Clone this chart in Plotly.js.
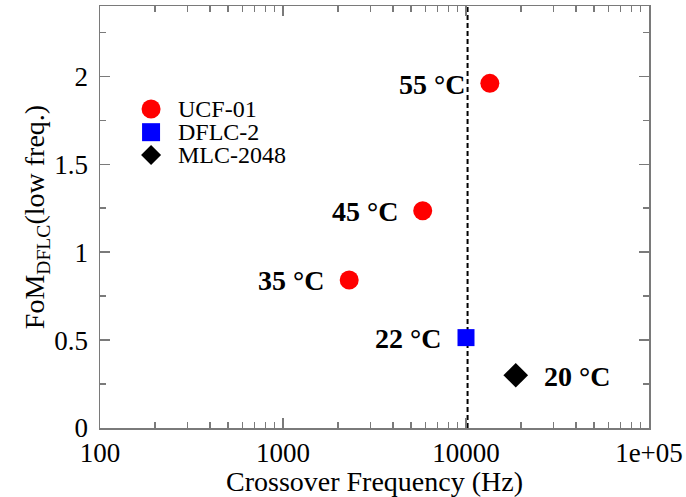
<!DOCTYPE html>
<html>
<head>
<meta charset="utf-8">
<script src="https://cdn.plot.ly/plotly-3.0.1.min.js"></script>
<style>html,body{margin:0;padding:0;background:#fff;}#chart{width:686px;height:497px;}</style>
</head>
<body>
<div id="chart"></div>
<script>
// Data
const seriesNames = ['UCF-01', 'DFLC-2', 'MLC-2048'];
const ucfFreq = [2300, 5800, 13500];
const ucfFoM = [0.842, 1.236, 1.96];
const ucfTemps = ['35 °C', '45 °C', '55 °C'];
const dflcFreq = [10000];
const dflcFoM = [0.514];
const dflcTemps = ['22 °C'];
const mlcFreq = [18700];
const mlcFoM = [0.3];
const mlcTemps = ['20 °C'];
const crossoverLineFreq = 10200;
const yRange = [0, 2.4];
const xTickVals = [100, 1000, 10000, 100000];
const xTickText = ['100', '1000', '10000', '1e+05'];
const xMinorVals = [200,300,400,500,600,700,800,900,2000,3000,4000,5000,6000,7000,8000,9000,20000,30000,40000,50000,60000,70000,80000,90000];

const serif = "'Liberation Serif', 'Times New Roman', Times, serif";
const axisGray = '#7a7a7a';
const colors = ['#ff0000', '#0000ff', '#000000'];

const traces = [
  {x: [crossoverLineFreq, crossoverLineFreq], y: yRange, mode: 'lines', showlegend: false,
   line: {color: 'black', width: 2, dash: '5px,3px'}, hoverinfo: 'skip'},
  {x: ucfFreq, y: ucfFoM, name: seriesNames[0], mode: 'markers', showlegend: false,
   marker: {symbol: 'circle', size: 19, color: colors[0]}},
  {x: dflcFreq, y: dflcFoM, name: seriesNames[1], mode: 'markers', showlegend: false,
   marker: {symbol: 'square', size: 17, color: colors[1]}},
  {x: mlcFreq, y: mlcFoM, name: seriesNames[2], mode: 'markers', showlegend: false,
   marker: {symbol: 'diamond', size: 19, color: colors[2]}}
];

const annotations = [];
function addLabels(xs, ys, texts, side) {
  xs.forEach((xv, i) => {
    annotations.push({
      x: Math.log10(xv), y: ys[i], xref: 'x', yref: 'y', text: '<b>' + texts[i] + '</b>',
      showarrow: false, xanchor: side === 'left' ? 'right' : 'left',
      xshift: side === 'left' ? -23 : 26, yshift: -1,
      font: {family: serif, size: 28, color: 'black'}
    });
  });
}
addLabels(ucfFreq, ucfFoM, ucfTemps, 'left');
addLabels(dflcFreq, dflcFoM, dflcTemps, 'left');
addLabels(mlcFreq, mlcFoM, mlcTemps, 'right');

// Legend block (top-left inside the axes), drawn as glyphs + text in paper coordinates
const legX = 0.093, legTextX = 0.138;
const legY = [0.756, 0.701, 0.647];
const shapes = [];
shapes.push({type: 'circle', xref: 'paper', yref: 'paper', xsizemode: 'pixel', ysizemode: 'pixel',
  xanchor: legX, yanchor: legY[0], x0: -9.5, x1: 9.5, y0: -9.5, y1: 9.5,
  fillcolor: colors[0], line: {width: 0}});
shapes.push({type: 'rect', xref: 'paper', yref: 'paper', xsizemode: 'pixel', ysizemode: 'pixel',
  xanchor: legX, yanchor: legY[1], x0: -9, x1: 9, y0: -9, y1: 9,
  fillcolor: colors[1], line: {width: 0}});
shapes.push({type: 'path', xref: 'paper', yref: 'paper', xsizemode: 'pixel', ysizemode: 'pixel',
  xanchor: legX, yanchor: legY[2], path: 'M0,-10 L10,0 L0,10 L-10,0 Z',
  fillcolor: colors[2], line: {width: 0}});
seriesNames.forEach((n, i) => {
  annotations.push({x: legTextX, y: legY[i], xref: 'paper', yref: 'paper', text: n, showarrow: false,
    xanchor: 'left', yanchor: 'middle', height: 22, valign: 'middle',
    font: {family: serif, size: 24, color: 'black'}});
});

const layout = {
  width: 686, height: 497,
  margin: {l: 100, r: 37, t: 6, b: 69},
  paper_bgcolor: '#fff', plot_bgcolor: '#fff',
  font: {family: serif, color: 'black'},
  showlegend: false,
  xaxis: {
    type: 'log', range: [2, 5], showgrid: false, zeroline: false,
    showline: true, linecolor: axisGray, linewidth: 1.5, mirror: 'ticks',
    ticks: 'inside', ticklen: 10, tickcolor: axisGray, tickwidth: 1.5,
    tickmode: 'array', tickvals: xTickVals, ticktext: xTickText,
    tickfont: {family: serif, size: 27, color: 'black'},
    minor: {tickmode: 'array', tickvals: xMinorVals, ticks: 'inside', ticklen: 6, tickcolor: axisGray, tickwidth: 1.5, showgrid: false},
    title: {text: 'Crossover Frequency (Hz)', font: {family: serif, size: 28, color: 'black'}, standoff: 2}
  },
  yaxis: {
    range: yRange, showgrid: false, zeroline: false,
    showline: true, linecolor: axisGray, linewidth: 1.5, mirror: 'ticks',
    ticks: 'inside', ticklen: 10, tickcolor: axisGray, tickwidth: 1.5,
    dtick: 0.5, tick0: 0, ticklabelstandoff: 5,
    tickfont: {family: serif, size: 27, color: 'black'},
    minor: {dtick: 0.25, ticks: 'inside', ticklen: 6, tickcolor: axisGray, tickwidth: 1.5, showgrid: false},
    title: {text: 'FoM<sub>DFLC</sub>(low freq.)', font: {family: serif, size: 28, color: 'black'}, standoff: 0}
  },
  shapes: shapes,
  annotations: annotations
};

Plotly.newPlot('chart', traces, layout, {displayModeBar: false, staticPlot: true});
</script>
</body>
</html>
